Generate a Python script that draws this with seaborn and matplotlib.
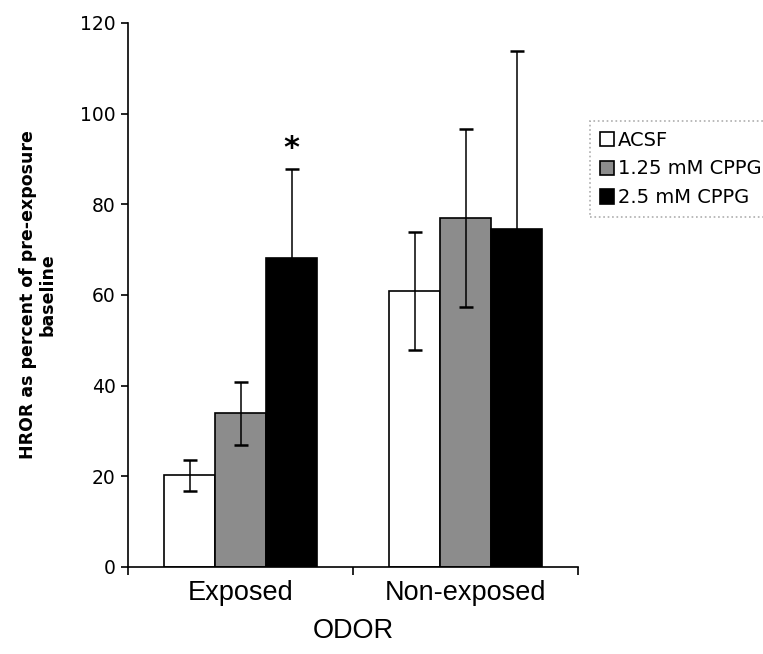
import pandas as pd
import seaborn as sns
from matplotlib import pyplot as plt

# values
odors = ['Exposed', 'Non-exposed']
treatments = ['ACSF', '1.25 mM CPPG', '2.5 mM CPPG']
acsf_mean = [20.2, 60.9]
acsf_err = [3.4, 13.1]
cppg125_mean = [33.9, 77.0]
cppg125_err = [7.0, 19.6]
cppg25_mean = [68.1, 74.5]
cppg25_err = [19.8, 39.3]
yticks = [0, 20, 40, 60, 80, 100, 120]


def set_plot(df):
    fig = plt.figure(figsize=(7.63, 6.54), dpi=100)
    ax = fig.add_axes([128 / 763, 1 - 567 / 654, 450 / 763, 544 / 654])

    sns.barplot(data=df, x='odor', y='hror', hue='treatment',
                palette=['white', '#8c8c8c', 'black'], edgecolor='black',
                linewidth=1.2, width=0.68, errorbar=None, ax=ax)

    # error bars on top of the bars seaborn placed
    errs = [acsf_err, cppg125_err, cppg25_err]
    for cont, err in zip(ax.containers, errs):
        xs = [b.get_x() + b.get_width() / 2 for b in cont]
        ys = [b.get_height() for b in cont]
        ax.errorbar(xs, ys, yerr=err, fmt='none', ecolor='black',
                    elinewidth=1.1, capsize=5, capthick=1.8, zorder=3)

    # significance mark over exposed / 2.5 mM
    star_bar = ax.containers[2][0]
    ax.text(star_bar.get_x() + star_bar.get_width() / 2,
            cppg25_mean[0] + cppg25_err[0] + 1.2, '*',
            ha='center', va='bottom', fontsize=22, fontweight='bold',
            family='DejaVu Sans')

    ax.set_ylim(0, 120)
    ax.set_xlim(-0.5, 1.5)
    ax.set_yticks(yticks)
    ax.set_yticklabels([str(v) for v in yticks], family='DejaVu Sans', fontsize=13.5)
    ax.tick_params(axis='y', length=5, width=1.2, pad=4)
    ax.set_xticks([0, 1])
    ax.set_xticklabels(odors, family='Liberation Sans', fontsize=19.5)
    ax.set_xticks([-0.5, 0.5, 1.5], minor=True)
    ax.tick_params(axis='x', which='major', length=0, pad=9)
    ax.tick_params(axis='x', which='minor', length=6, width=1.2)

    ax.set_xlabel('ODOR', family='Liberation Sans', fontsize=19.5, labelpad=9)
    ax.set_ylabel('HROR as percent of pre-exposure\nbaseline', family='DejaVu Sans',
                  fontsize=12.5, fontweight='bold', labelpad=17, linespacing=1.1)

    sns.despine(ax=ax)
    for s in ['left', 'bottom']:
        ax.spines[s].set_linewidth(1.2)

    handles = list(ax.containers)
    leg = ax.legend(handles, treatments, loc='upper left',
                    bbox_to_anchor=(590 / 763, 1 - 121 / 654),
                    bbox_transform=fig.transFigure, frameon=True,
                    fancybox=False, fontsize=14, labelspacing=0.5,
                    handlelength=0.75, handleheight=0.75, handletextpad=0.2,
                    borderpad=0.5, borderaxespad=0)
    leg.get_frame().set_edgecolor('#9a9a9a')
    leg.get_frame().set_linestyle(':')
    leg.get_frame().set_linewidth(1.2)
    for t in leg.get_texts():
        t.set_family('DejaVu Sans')

    return fig


if __name__ == '__main__':
    sns.set_style('ticks')
    plt.rcParams['font.family'] = ['DejaVu Sans']
    plt.rcParams['text.color'] = 'black'
    plt.rcParams['axes.labelcolor'] = 'black'
    plt.rcParams['axes.edgecolor'] = 'black'
    plt.rcParams['xtick.color'] = 'black'
    plt.rcParams['ytick.color'] = 'black'

    df = pd.DataFrame({
        'odor': odors * 3,
        'treatment': [t for t in treatments for _ in odors],
        'hror': acsf_mean + cppg125_mean + cppg25_mean,
    })

    fig = set_plot(df)
    fig.savefig('out.png', dpi=100)
